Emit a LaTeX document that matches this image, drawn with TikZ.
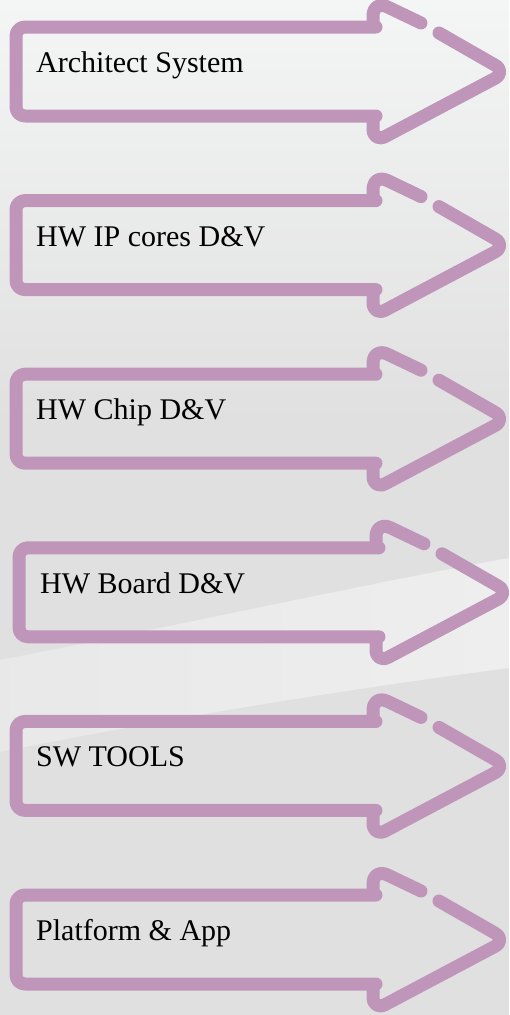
\documentclass[tikz,border=0pt]{standalone}
\usepackage{fontspec}
\setmainfont{Liberation Serif}
\definecolor{lilac}{RGB}{191,150,186}
\definecolor{bgtop}{RGB}{244,245,245}
\definecolor{bgmid}{RGB}{224,224,224}
\definecolor{swoosh}{RGB}{237,238,237}
\begin{document}
\begin{tikzpicture}[x=1pt, y=-1pt,
  outline/.style={draw=lilac, line width=13pt, line cap=round, line join=round},
  stagetext/.style={anchor=base west, inner sep=0pt, font=\fontsize{30}{36}\selectfont},
  bigarrow/.pic={
    \draw[outline, rounded corners=14pt] (439,33) -- (507,72) -- (373,143) -- (373,118);
    \draw[outline, rounded corners=9pt] (376,116) -- (16,116) -- (16,27) -- (376,27);
    \draw[outline, rounded corners=16pt] (373,25) -- (373,0) -- (421,23);
  }]
\useasboundingbox (0,0) rectangle (509,1015);
% background
\fill[bgmid] (0,0) rectangle (509,1015);
\shade[top color=bgtop, bottom color=bgmid] (0,0) rectangle (509,420);
\shade[left color=bgmid!40!swoosh, right color=swoosh] (0,660) .. controls (180,625) and (360,585) .. (509,558) -- (509,668) .. controls (340,690) and (160,720) .. (0,752) -- cycle;
% the six stages
\pic at (0,0) {bigarrow};
\node[stagetext] (arch) at (36,72.5) {Architect System};
\pic at (0,173.6) {bigarrow};
\node[stagetext] (ipcores) at (36,246.1) {HW IP cores D\&V};
\pic at (0,347.2) {bigarrow};
\node[stagetext] (chip) at (36,419.7) {HW Chip D\&V};
\pic at (3,520.8) {bigarrow};
\node[stagetext] (board) at (40,593.3) {HW Board D\&V};
\pic at (0,694.4) {bigarrow};
\node[stagetext] (swtools) at (36,766.9) {SW TOOLS};
\pic at (0,868) {bigarrow};
\node[stagetext] (platform) at (36,940.5) {Platform \& App};
\end{tikzpicture}
\end{document}
